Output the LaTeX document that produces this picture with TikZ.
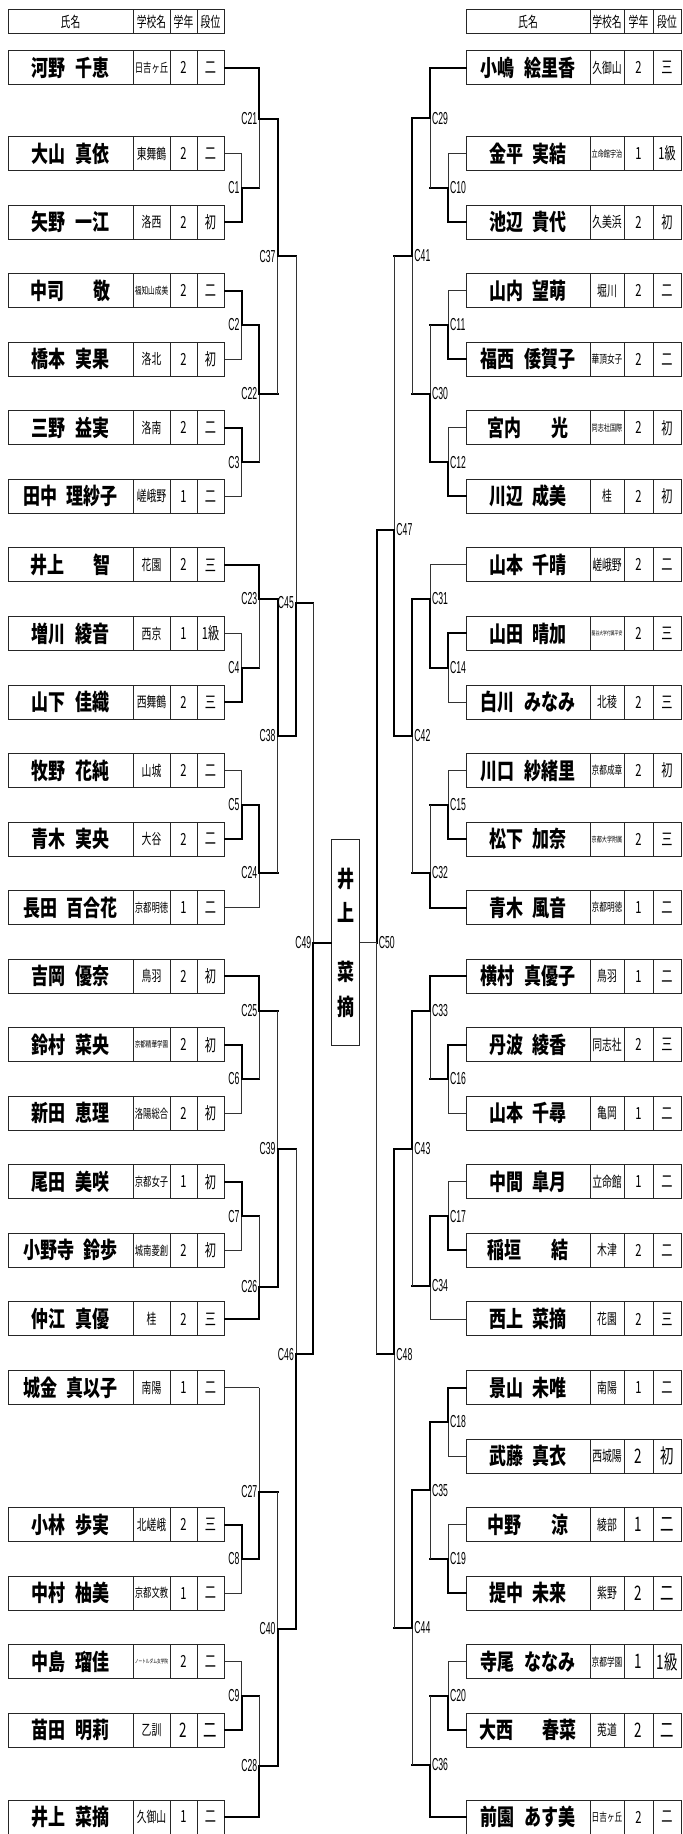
\documentclass[tikz,border=0pt]{standalone}
\usepackage{fontspec}
\usepackage{graphicx}
\newfontfamily\jpn[FakeStretch=0.75]{Noto Sans CJK JP}
\newfontfamily\jpc[FakeStretch=0.67]{Noto Sans CJK JP}
\newfontfamily\lbf[FakeStretch=0.5]{Liberation Sans}
\newsavebox\fbx
\newcommand\fitt[2]{\sbox\fbx{#2}\ifdim\wd\fbx>#1\relax\resizebox{#1}{!}{\usebox\fbx}\else\usebox\fbx\fi}
\newcommand\nm[2]{#1\hspace{0.4em}#2}
\newcommand\nmw[2]{#1\hspace{1.3em}#2}
\newcommand\nmf{\jpn\bfseries\fontsize{17}{17}\selectfont}
\newcommand\scf[1]{\jpc\fontsize{#1}{#1}\selectfont}
\tikzset{
  cell/.style={draw=black!85, line width=0.75pt, inner sep=0pt, minimum height=25.5pt, anchor=center},
  hcell/.style={cell, minimum height=18pt, font=\jpc\fontsize{11}{11}\selectfont},
  tk/.style={line width=1.5pt, line cap=rect, black},
  tn/.style={line width=0.7pt, black!80},
  lbE/.style={anchor=east, inner sep=0pt, xshift=-1.4pt, font=\lbf\fontsize{13}{13}\selectfont},
  lbW/.style={anchor=west, inner sep=0pt, xshift=1.4pt, font=\lbf\fontsize{13}{13}\selectfont},
}
% left player row: prefix, y, name, school, grade, rank, size
\newcommand\plL[7]{%
  \node[cell,minimum width=93.75pt] (#1n) at (70.5,#2) {\nmf #3};
  \node[cell,minimum width=27.75pt] (#1s) at (151.5,#2) {\scf{11}\fitt{25pt}{#4}};
  \node[cell,minimum width=20.25pt] (#1g) at (183.5,#2) {\scf{#7}#5};
  \node[cell,minimum width=20.25pt] (#1r) at (210.5,#2) {\scf{#7}\fitt{17.5pt}{#6}};
}
\newcommand\plR[7]{%
  \node[cell,minimum width=93pt] (#1n) at (528,#2) {\nmf #3};
  \node[cell,minimum width=25.5pt] (#1s) at (607,#2) {\scf{11}\fitt{23pt}{#4}};
  \node[cell,minimum width=21.75pt] (#1g) at (638.5,#2) {\scf{#7}#5};
  \node[cell,minimum width=21pt] (#1r) at (667,#2) {\scf{#7}\fitt{18.5pt}{#6}};
}
% bracket match: junction, top child, top horiz style, top vert style, bottom child, bottom horiz style, bottom vert style
\newcommand\bm[7]{%
  \draw[#3] (#2) -- (#2 -| #1);
  \draw[#4] (#2 -| #1) -- (#1);
  \draw[#6] (#5) -- (#5 -| #1);
  \draw[#7] (#5 -| #1) -- (#1);
}
\begin{document}
\begin{tikzpicture}[x=0.75pt,y=-0.75pt]
\path[use as bounding box] (0,0) rectangle (682,1834);

% headers
\node[hcell,minimum width=93.75pt] (hLn) at (70.5,22) {氏名};
\node[hcell,minimum width=27.75pt] (hLs) at (151.5,22) {学校名};
\node[hcell,minimum width=20.25pt] (hLg) at (183.5,22) {学年};
\node[hcell,minimum width=20.25pt] (hLr) at (210.5,22) {段位};
\node[hcell,minimum width=93pt] (hRn) at (528,22) {氏名};
\node[hcell,minimum width=25.5pt] (hRs) at (607,22) {学校名};
\node[hcell,minimum width=21.75pt] (hRg) at (638.5,22) {学年};
\node[hcell,minimum width=21pt] (hRr) at (667,22) {段位};

% left players
\plL{L1}{67.6}{\nm{河野}{千恵}}{日吉ヶ丘}{2}{二}{12.5}
\plL{L2}{153.6}{\nm{大山}{真依}}{東舞鶴}{2}{二}{12.5}
\plL{L3}{222.15}{\nm{矢野}{一江}}{洛西}{2}{初}{12.5}
\plL{L4}{290.7}{\nmw{中司}{敬}}{福知山成美}{2}{二}{12.5}
\plL{L5}{359.25}{\nm{橋本}{実果}}{洛北}{2}{初}{12.5}
\plL{L6}{427.8}{\nm{三野}{益実}}{洛南}{2}{二}{12.5}
\plL{L7}{496.35}{\nm{田中}{理紗子}}{嵯峨野}{1}{二}{12.5}
\plL{L8}{564.9}{\nmw{井上}{智}}{花園}{2}{三}{12.5}
\plL{L9}{633.45}{\nm{増川}{綾音}}{西京}{1}{1級}{12.5}
\plL{L10}{702}{\nm{山下}{佳織}}{西舞鶴}{2}{三}{12.5}
\plL{L11}{770.55}{\nm{牧野}{花純}}{山城}{2}{二}{12.5}
\plL{L12}{839.1}{\nm{青木}{実央}}{大谷}{2}{二}{12.5}
\plL{L13}{907.65}{\nm{長田}{百合花}}{京都明徳}{1}{二}{12.5}
\plL{L14}{976.2}{\nm{吉岡}{優奈}}{鳥羽}{2}{初}{12.5}
\plL{L15}{1044.75}{\nm{鈴村}{菜央}}{京都精華学園}{2}{初}{12.5}
\plL{L16}{1113.3}{\nm{新田}{恵理}}{洛陽総合}{2}{初}{12.5}
\plL{L17}{1181.85}{\nm{尾田}{美咲}}{京都女子}{1}{初}{12.5}
\plL{L18}{1250.4}{\nm{小野寺}{鈴歩}}{城南菱創}{2}{初}{12.5}
\plL{L19}{1318.95}{\nm{仲江}{真優}}{桂}{2}{三}{12.5}
\plL{L20}{1387.5}{\nm{城金}{真以子}}{南陽}{1}{二}{12.5}
\plL{L21}{1524.6}{\nm{小林}{歩実}}{北嵯峨}{2}{三}{12.5}
\plL{L22}{1593.15}{\nm{中村}{柚美}}{京都文教}{1}{二}{12.5}
\plL{L23}{1661.7}{\nm{中島}{瑠佳}}{ノートルダム女学院}{2}{二}{12.5}
\plL{L24}{1730.25}{\nm{苗田}{明莉}}{乙訓}{2}{二}{15}
\plL{L25}{1817}{\nm{井上}{菜摘}}{久御山}{1}{二}{12.5}

% right players
\plR{R1}{67.6}{\nm{小嶋}{絵里香}}{久御山}{2}{三}{12.5}
\plR{R2}{153.6}{\nm{金平}{実結}}{立命館宇治}{1}{1級}{12.5}
\plR{R3}{222.15}{\nm{池辺}{貴代}}{久美浜}{2}{初}{12.5}
\plR{R4}{290.7}{\nm{山内}{望萌}}{堀川}{2}{二}{12.5}
\plR{R5}{359.25}{\nm{福西}{倭賀子}}{華頂女子}{2}{二}{12.5}
\plR{R6}{427.8}{\nmw{宮内}{光}}{同志社国際}{2}{初}{12.5}
\plR{R7}{496.35}{\nm{川辺}{成美}}{桂}{2}{初}{12.5}
\plR{R8}{564.9}{\nm{山本}{千晴}}{嵯峨野}{2}{二}{12.5}
\plR{R9}{633.45}{\nm{山田}{晴加}}{龍谷大学付属平安}{2}{三}{12.5}
\plR{R10}{702}{\nm{白川}{みなみ}}{北稜}{2}{三}{12.5}
\plR{R11}{770.55}{\nm{川口}{紗緒里}}{京都成章}{2}{初}{12.5}
\plR{R12}{839.1}{\nm{松下}{加奈}}{京都大学附属}{2}{三}{12.5}
\plR{R13}{907.65}{\nm{青木}{風音}}{京都明徳}{1}{二}{12.5}
\plR{R14}{976.2}{\nm{横村}{真優子}}{鳥羽}{1}{二}{12.5}
\plR{R15}{1044.75}{\nm{丹波}{綾香}}{同志社}{2}{三}{12.5}
\plR{R16}{1113.3}{\nm{山本}{千尋}}{亀岡}{1}{二}{12.5}
\plR{R17}{1181.85}{\nm{中間}{皐月}}{立命館}{1}{二}{12.5}
\plR{R18}{1250.4}{\nmw{稲垣}{結}}{木津}{2}{二}{12.5}
\plR{R19}{1318.95}{\nm{西上}{菜摘}}{花園}{2}{三}{12.5}
\plR{R20}{1387.5}{\nm{景山}{未唯}}{南陽}{1}{二}{12.5}
\plR{R21}{1456.05}{\nm{武藤}{真衣}}{西城陽}{2}{初}{15}
\plR{R22}{1524.6}{\nmw{中野}{涼}}{綾部}{1}{二}{15}
\plR{R23}{1593.15}{\nm{提中}{未来}}{紫野}{2}{二}{15}
\plR{R24}{1661.7}{\nm{寺尾}{ななみ}}{京都学園}{1}{1級}{15}
\plR{R25}{1730.25}{\nmw{大西}{春菜}}{莵道}{2}{二}{15}
\plR{R26}{1817}{\nm{前園}{あす美}}{日吉ヶ丘}{2}{二}{12.5}

% champion box
\node[cell, minimum width=20.7pt, minimum height=155pt, align=center,
      font=\jpn\bfseries\fontsize{17}{25.7}\selectfont] (champ) at (345.5,942.65)
      {井\\上\\[18.9pt]菜\\摘};

% junction coordinates, left
\coordinate (c1) at (241.7,187.9);
\coordinate (c2) at (241.7,325);
\coordinate (c3) at (241.7,462.1);
\coordinate (c4) at (241.7,667.7);
\coordinate (c5) at (241.7,804.8);
\coordinate (c6) at (241.7,1079);
\coordinate (c7) at (241.7,1216.1);
\coordinate (c8) at (241.7,1558.9);
\coordinate (c9) at (241.7,1696);
\coordinate (c21) at (259.3,118.7);
\coordinate (c22) at (259.3,393.5);
\coordinate (c23) at (259.3,598.7);
\coordinate (c24) at (259.3,873);
\coordinate (c25) at (259.3,1010.7);
\coordinate (c26) at (259.3,1286.5);
\coordinate (c27) at (259.3,1492);
\coordinate (c28) at (259.3,1766);
\coordinate (c37) at (277.7,256.1);
\coordinate (c38) at (277.7,736);
\coordinate (c39) at (277.7,1148.6);
\coordinate (c40) at (277.7,1629);
\coordinate (c45) at (296,602.5);
\coordinate (c46) at (296,1354.2);
\coordinate (c49) at (313.3,942.6);
% right
\coordinate (c10) at (448,187.9);
\coordinate (c11) at (448,325);
\coordinate (c12) at (448,462.1);
\coordinate (c14) at (448,667.7);
\coordinate (c15) at (448,804.8);
\coordinate (c16) at (448,1079);
\coordinate (c17) at (448,1216.1);
\coordinate (c18) at (448,1421.8);
\coordinate (c19) at (448,1558.9);
\coordinate (c20) at (448,1696);
\coordinate (c29) at (430,118.4);
\coordinate (c30) at (430,393.5);
\coordinate (c31) at (430,598.7);
\coordinate (c32) at (430,873);
\coordinate (c33) at (430,1010.7);
\coordinate (c34) at (430,1286);
\coordinate (c35) at (430,1490.3);
\coordinate (c36) at (430,1764.6);
\coordinate (c41) at (412.3,256);
\coordinate (c42) at (412.3,736);
\coordinate (c43) at (412.3,1148.5);
\coordinate (c44) at (412.3,1628);
\coordinate (c47) at (394.3,529.8);
\coordinate (c48) at (394.3,1354.2);
\coordinate (c50) at (376.7,942.6);

% left bracket
\bm{c1}{L2r.east}{tn}{tn}{L3r.east}{tk}{tk}
\bm{c21}{L1r.east}{tk}{tk}{c1}{tk}{tn}
\bm{c2}{L4r.east}{tk}{tk}{L5r.east}{tn}{tn}
\bm{c3}{L6r.east}{tk}{tk}{L7r.east}{tn}{tn}
\bm{c22}{c2}{tk}{tk}{c3}{tk}{tn}
\bm{c37}{c21}{tk}{tk}{c22}{tk}{tn}
\bm{c4}{L9r.east}{tn}{tn}{L10r.east}{tk}{tk}
\bm{c23}{L8r.east}{tk}{tk}{c4}{tk}{tn}
\bm{c5}{L11r.east}{tn}{tn}{L12r.east}{tk}{tk}
\bm{c24}{c5}{tk}{tk}{L13r.east}{tn}{tn}
\bm{c38}{c23}{tk}{tk}{c24}{tk}{tn}
\bm{c45}{c37}{tk}{tn}{c38}{tk}{tk}
\bm{c6}{L15r.east}{tk}{tk}{L16r.east}{tn}{tn}
\bm{c25}{L14r.east}{tk}{tk}{c6}{tk}{tn}
\bm{c7}{L17r.east}{tk}{tk}{L18r.east}{tn}{tn}
\bm{c26}{c7}{tk}{tn}{L19r.east}{tk}{tk}
\bm{c39}{c25}{tk}{tn}{c26}{tk}{tk}
\bm{c8}{L21r.east}{tk}{tk}{L22r.east}{tn}{tn}
\bm{c27}{L20r.east}{tn}{tn}{c8}{tk}{tk}
\bm{c9}{L23r.east}{tn}{tn}{L24r.east}{tk}{tk}
\bm{c28}{c9}{tk}{tn}{L25r.east}{tk}{tk}
\bm{c40}{c27}{tk}{tn}{c28}{tk}{tk}
\bm{c46}{c39}{tk}{tn}{c40}{tk}{tk}
\bm{c49}{c45}{tk}{tn}{c46}{tk}{tk}
\draw[tk] (c49) -- (c49 -| champ.west);

% right bracket
\bm{c10}{R2n.west}{tn}{tn}{R3n.west}{tk}{tk}
\bm{c29}{R1n.west}{tk}{tk}{c10}{tk}{tn}
\bm{c11}{R4n.west}{tn}{tn}{R5n.west}{tk}{tk}
\bm{c12}{R6n.west}{tn}{tn}{R7n.west}{tk}{tk}
\bm{c30}{c11}{tk}{tn}{c12}{tk}{tk}
\bm{c41}{c29}{tk}{tk}{c30}{tk}{tn}
\bm{c14}{R9n.west}{tk}{tk}{R10n.west}{tn}{tn}
\bm{c31}{R8n.west}{tn}{tn}{c14}{tk}{tk}
\bm{c15}{R11n.west}{tn}{tn}{R12n.west}{tk}{tk}
\bm{c32}{c15}{tk}{tn}{R13n.west}{tk}{tk}
\bm{c42}{c31}{tk}{tk}{c32}{tk}{tn}
\bm{c47}{c41}{tk}{tn}{c42}{tk}{tk}
\bm{c16}{R15n.west}{tk}{tk}{R16n.west}{tn}{tn}
\bm{c33}{R14n.west}{tk}{tk}{c16}{tk}{tn}
\bm{c17}{R17n.west}{tn}{tn}{R18n.west}{tk}{tk}
\bm{c34}{c17}{tk}{tk}{R19n.west}{tn}{tn}
\bm{c43}{c33}{tk}{tk}{c34}{tk}{tn}
\bm{c18}{R20n.west}{tk}{tk}{R21n.west}{tn}{tn}
\bm{c19}{R22n.west}{tn}{tn}{R23n.west}{tk}{tk}
\bm{c35}{c18}{tk}{tk}{c19}{tk}{tn}
\bm{c20}{R24n.west}{tn}{tn}{R25n.west}{tk}{tk}
\bm{c36}{c20}{tk}{tn}{R26n.west}{tk}{tk}
\bm{c44}{c35}{tk}{tk}{c36}{tk}{tn}
\bm{c48}{c43}{tk}{tk}{c44}{tk}{tn}
\bm{c50}{c47}{tk}{tk}{c48}{tk}{tn}
\draw[tn] (c50) -- (c50 -| champ.east);

% match labels, left
\foreach \c in {1,2,3,4,5,6,7,8,9,21,22,23,24,25,26,27,28,37,38,39,40,45,46,49}
  \node[lbE] (lab\c) at (c\c) {C\c};
% match labels, right
\foreach \c in {10,11,12,14,15,16,17,18,19,20,29,30,31,32,33,34,35,36,41,42,43,44,47,48,50}
  \node[lbW] (lab\c) at (c\c) {C\c};
\end{tikzpicture}
\end{document}
